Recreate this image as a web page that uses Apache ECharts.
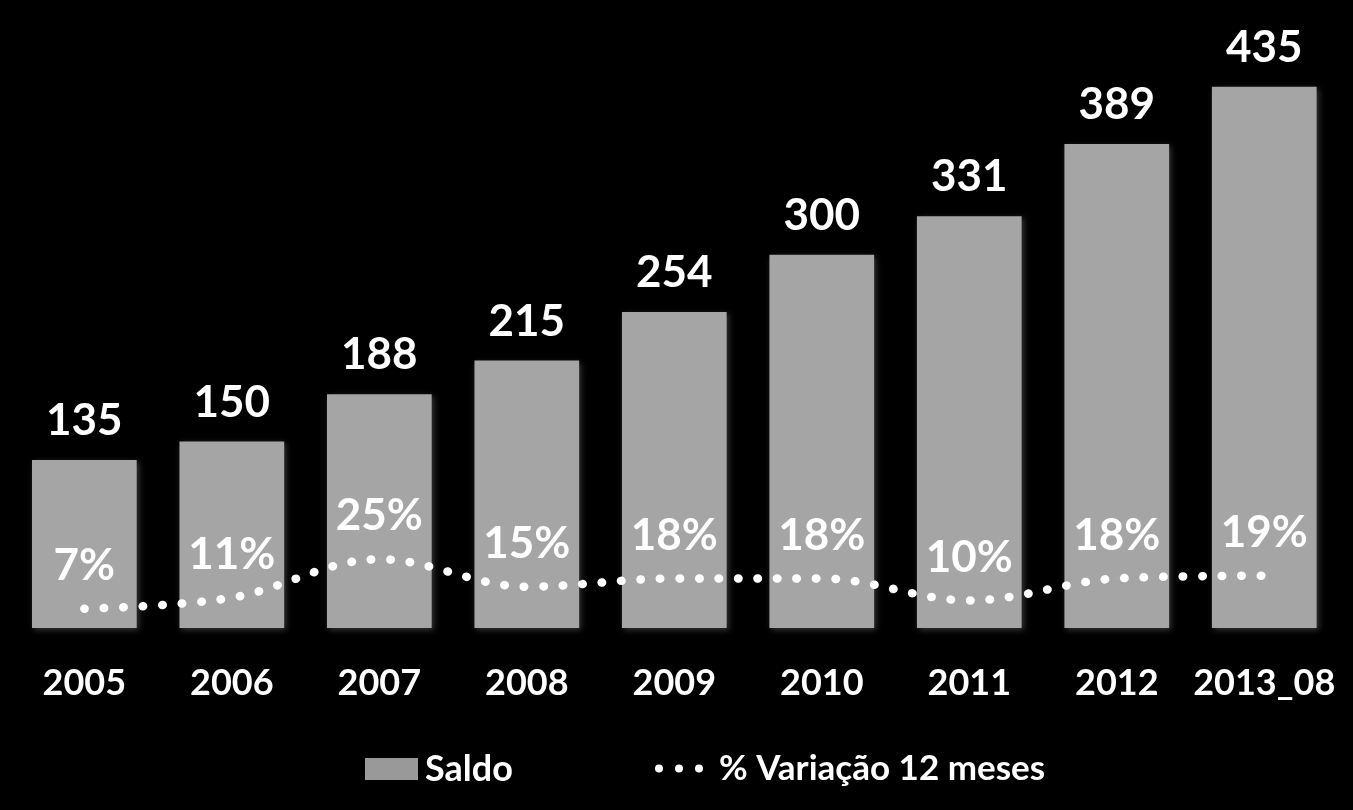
<!DOCTYPE html>
<html>
<head>
<meta charset="utf-8">
<script src="https://cdn.jsdelivr.net/npm/echarts@6/dist/echarts.min.js"></script>
<style>
html,body{margin:0;padding:0;background:#000;}
#chart{width:1353px;height:810px;}
</style>
</head>
<body>
<div id="chart"></div>
<script>
const categories = ['2005','2006','2007','2008','2009','2010','2011','2012','2013_08'];
const saldo = [135,150,188,215,254,300,331,389,435];
const variacao = [7,11,25,15,18,18,10,18,19];
const seriesNames = ['Saldo','% Variação 12 meses'];

const FONT = 'Lato, "Open Sans", sans-serif';
const chart = echarts.init(document.getElementById('chart'));
chart.setOption({
  backgroundColor: '#000',
  animation: false,
  textStyle: {fontFamily: FONT},
  grid: {left: 10.6, right: 15, top: 6, bottom: 182},
  legend: [
    {
      data: [{name: seriesNames[0], itemStyle: {color: '#999999'}}],
      left: 365, top: 751, padding: 0,
      itemWidth: 53, itemHeight: 22, itemGap: 4,
      icon: 'rect',
      textStyle: {color: '#fff', fontSize: 36, fontWeight: 'bold', fontFamily: FONT, padding: [0,0,0,2]}
    },
    {
      data: [{name: seriesNames[1], icon: 'path://M0,4a4,4 0 1,0 8,0a4,4 0 1,0 -8,0M20,4a4,4 0 1,0 8,0a4,4 0 1,0 -8,0M40,4a4,4 0 1,0 8,0a4,4 0 1,0 -8,0'}],
      left: 655, top: 751, padding: 0,
      itemWidth: 48, itemHeight: 8, itemGap: 6,
      textStyle: {color: '#fff', fontSize: 35, fontWeight: 'bold', fontFamily: FONT, padding: [0,0,0,11]}
    }
  ],
  xAxis: {
    type: 'category',
    data: categories,
    axisLine: {show: false},
    axisTick: {show: false},
    axisLabel: {interval: 0, color: '#fff', fontSize: 36, fontWeight: 'bold', fontFamily: FONT, margin: 37}
  },
  yAxis: [
    {type: 'value', min: 0, max: 500, show: false, splitLine: {show: false}},
    {type: 'value', min: 0, max: 226, show: false, splitLine: {show: false}}
  ],
  series: [
    {
      name: seriesNames[0],
      type: 'bar',
      data: saldo,
      barWidth: '71%',
      itemStyle: {color: '#a5a5a5', shadowColor: 'rgba(90,90,90,0.6)', shadowBlur: 6, shadowOffsetX: 2, shadowOffsetY: 2},
      label: {show: true, position: 'top', distance: 17, color: '#fff', fontSize: 44, fontWeight: 'bold', fontFamily: FONT}
    },
    {
      name: seriesNames[1],
      type: 'line',
      yAxisIndex: 1,
      data: variacao,
      smooth: 0.35,
      showSymbol: true,
      symbolSize: 0.1,
      itemStyle: {color: '#fff'},
      lineStyle: {color: '#fff', width: 8.5, type: [0.5, 19], cap: 'round'},
      label: {show: true, position: 'top', distance: 20, color: '#fff', fontSize: 44, fontWeight: 'bold', fontFamily: FONT, formatter: '{c}%'},
      z: 5
    }
  ]
});
</script>
</body>
</html>
